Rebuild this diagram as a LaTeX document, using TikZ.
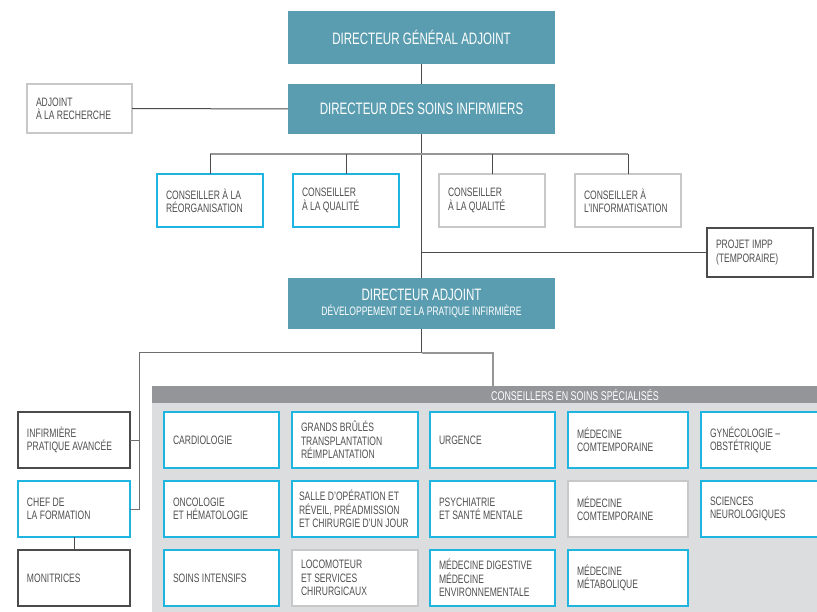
\documentclass[tikz,border=0pt]{standalone}
\usepackage{fontspec}
\setmainfont{Liberation Sans}[FakeStretch=0.7]
\definecolor{tealA}{RGB}{90,157,176}
\definecolor{cyanB}{RGB}{30,182,224}
\definecolor{grayB}{RGB}{200,200,200}
\definecolor{darkB}{RGB}{75,75,75}
\definecolor{txtC}{RGB}{80,80,80}
\definecolor{hdrC}{RGB}{147,149,152}
\definecolor{bandC}{RGB}{220,221,223}
\definecolor{lineG}{RGB}{150,150,150}
\tikzset{
  box/.style={rectangle, inner xsep=9pt, inner ysep=0pt, outer sep=0pt, align=flush left, text=txtC,
    font=\fontsize{12.2}{13.3}\selectfont, fill=white},
  cyanbox/.style={box, draw=cyanB, line width=1.8pt},
  graybox/.style={box, draw=grayB, line width=1.8pt},
  darkbox/.style={box, draw=darkB, line width=1.1pt},
  tealbox/.style={rectangle, fill=tealA, text=white, minimum width=267pt, align=center,
    inner sep=0pt, outer sep=0pt, font=\fontsize{16.5}{18}\selectfont},
  conn/.style={draw=darkB, line width=1pt},
  gconn/.style={draw=lineG, line width=1.6pt},
}
\begin{document}
\begin{tikzpicture}[x=1pt,y=-1pt]
\useasboundingbox (0,0) rectangle (817,612);
\clip (0,0) rectangle (817,612);

% top boxes
\node[tealbox, minimum height=53pt] (dga) at (421.5,37.5) {DIRECTEUR GÉNÉRAL ADJOINT};
\node[tealbox, minimum height=50pt] (dsi) at (421.5,109) {DIRECTEUR DES SOINS INFIRMIERS};
\node[tealbox, minimum height=51pt] (da) at (421.5,303.5)
  {DIRECTEUR ADJOINT\\[-3pt]{\fontsize{12.2}{14}\selectfont DÉVELOPPEMENT DE LA PRATIQUE INFIRMIÈRE}};

\node[graybox, text width=87pt, minimum height=49pt] (adj) at (79.5,108.5) {ADJOINT\\À LA RECHERCHE};

\node[cyanbox, text width=88pt, minimum height=53pt] (c1) at (210,200.5) {CONSEILLER À LA\\RÉORGANISATION};
\node[cyanbox, text width=88pt, minimum height=53pt] (c2) at (346,200.5) {CONSEILLER\\À LA QUALITÉ};
\node[graybox, text width=88pt, minimum height=53pt] (c3) at (492,200.5) {CONSEILLER\\À LA QUALITÉ};
\node[graybox, text width=88pt, minimum height=53pt] (c4) at (628,200.5) {CONSEILLER À\\L'INFORMATISATION};

\node[darkbox, text width=88pt, minimum height=49pt] (imp) at (760,252.5) {PROJET IMPP\\(TEMPORAIRE)};

% connectors top
\coordinate (bar) at (0,154);
\draw[conn] (dga.south) -- (dsi.north);
\draw[conn] (dsi.south) -- (da.north);
\draw[conn] (adj.east) -- (dsi.west);
\draw[conn] (imp.west) -- (imp.west -| dsi.south);
\draw[gconn] (c1.north |- bar) -- (c4.north |- bar);
\draw[conn] (c1.north) -- (c1.north |- bar);
\draw[conn] (c2.north) -- (c2.north |- bar);
\draw[conn] (c3.north) -- (c3.north |- bar);
\draw[conn] (c4.north) -- (c4.north |- bar);

% band
\fill[bandC] (152,403) rectangle (817,612);
\node[fill=hdrC, minimum width=665pt, minimum height=17pt, anchor=north west, inner sep=0pt, outer sep=0pt] (hdr) at (152,386) {};
\node[anchor=west, text=white, inner sep=0pt, font=\fontsize{12.7}{14}\selectfont] (hdrtxt) at (491,395) {CONSEILLERS EN SOINS SPÉCIALISÉS};

% left boxes
\node[darkbox, text width=94pt, minimum height=56pt] (inf) at (74,440) {INFIRMIÈRE\\PRATIQUE AVANCÉE};
\node[cyanbox, text width=94pt, minimum height=56pt] (chef) at (74,509) {CHEF DE\\LA FORMATION};
\node[darkbox, text width=94pt, minimum height=56pt] (moni) at (74,578) {MONITRICES};

% connectors lower
\coordinate (jn) at (421.5,353);
\coordinate (lb) at (139,353);
\coordinate (hin) at (493,386);
\draw[conn] (da.south) -- (jn);
\draw[gconn, line width=1.3pt] (jn) -| (hin);
\draw[conn, draw=darkB!80] (jn) -- (lb) |- (chef.east);
\draw[conn, draw=darkB!80] (inf.east) -- (inf.east -| lb);
\draw[conn] (chef.south) -- (moni.north);

% grid
\node[cyanbox, text width=97pt, minimum height=56pt] (g11) at (221.5,440) {CARDIOLOGIE};
\node[cyanbox, text width=108pt, minimum height=56pt] (g12) at (355,440) {GRANDS BRÛLÉS\\TRANSPLANTATION\\RÉIMPLANTATION};
\node[cyanbox, text width=107pt, minimum height=56pt] (g13) at (492.5,440) {URGENCE};
\node[cyanbox, text width=102pt, minimum height=56pt] (g14) at (628,440) {MÉDECINE\\COMTEMPORAINE};
\node[cyanbox, text width=106pt, minimum height=56pt] (g15) at (763,440) {GYNÉCOLOGIE –\\OBSTÉTRIQUE};

\node[cyanbox, text width=97pt, minimum height=56pt] (g21) at (221.5,509) {ONCOLOGIE\\ET HÉMATOLOGIE};
\node[cyanbox, inner xsep=7pt, text width=112pt, minimum height=56pt] (g22) at (355,509) {SALLE D'OPÉRATION ET\\RÉVEIL, PRÉADMISSION\\ET CHIRURGIE D'UN JOUR};
\node[cyanbox, text width=107pt, minimum height=56pt] (g23) at (492.5,509) {PSYCHIATRIE\\ET SANTÉ MENTALE};
\node[graybox, text width=102pt, minimum height=56pt] (g24) at (628,509) {MÉDECINE\\COMTEMPORAINE};
\node[cyanbox, text width=106pt, minimum height=56pt] (g25) at (763,509) {SCIENCES\\NEUROLOGIQUES};

\node[cyanbox, text width=97pt, minimum height=56pt] (g31) at (221.5,578) {SOINS INTENSIFS};
\node[graybox, text width=108pt, minimum height=56pt] (g32) at (355,578) {LOCOMOTEUR\\ET SERVICES\\CHIRURGICAUX};
\node[cyanbox, text width=107pt, minimum height=56pt] (g33) at (492.5,578) {MÉDECINE DIGESTIVE\\MÉDECINE\\ENVIRONNEMENTALE};
\node[cyanbox, text width=102pt, minimum height=56pt] (g34) at (628,578) {MÉDECINE\\MÉTABOLIQUE};
\end{tikzpicture}
\end{document}
